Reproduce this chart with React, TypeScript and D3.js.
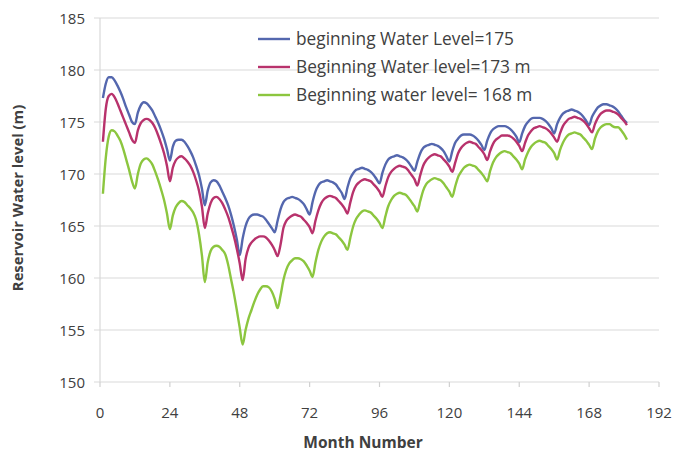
import React from "react";
import * as d3 from "d3";

const seriesNames = [
  "beginning Water Level=175",
  "Beginning Water level=173 m",
  "Beginning water level= 168 m",
];
const seriesColors = ["#5467AE", "#B8326C", "#8CC63F"];

const firstMonth = 1;

const level175 = [
  177.3, 178.7, 179.3, 179.3, 179.0, 178.5, 177.9, 177.2, 176.4, 175.7, 175.0, 174.8,
  175.9, 176.6, 176.9, 176.8, 176.5, 176.1, 175.5, 174.9, 174.2, 173.4, 172.4, 171.3,
  172.6, 173.2, 173.3, 173.3, 173.1, 172.7, 172.2, 171.6, 170.8, 169.9, 168.6, 167.0,
  168.4, 169.2, 169.4, 169.3, 168.9, 168.3, 167.7, 167.0, 166.1, 165.0, 163.7, 162.2,
  163.8, 165.0, 165.7, 166.0, 166.1, 166.1, 166.0, 165.9, 165.6, 165.2, 164.8, 164.4,
  165.5, 166.6, 167.3, 167.6, 167.7, 167.8, 167.7, 167.6, 167.4, 167.1, 166.6, 166.1,
  167.3, 168.3, 168.9, 169.2, 169.3, 169.4, 169.3, 169.2, 169.0, 168.6, 168.2, 167.6,
  168.7, 169.6, 170.1, 170.4, 170.5, 170.6, 170.5, 170.4, 170.2, 169.9, 169.5, 169.1,
  170.1, 170.9, 171.4, 171.6, 171.7, 171.8, 171.7, 171.6, 171.4, 171.1, 170.7, 170.3,
  171.2, 172.0, 172.5, 172.7, 172.8, 172.9, 172.8, 172.7, 172.5, 172.2, 171.7, 171.2,
  172.2, 173.0, 173.4, 173.7, 173.8, 173.8, 173.8, 173.7, 173.5, 173.2, 172.8, 172.3,
  173.2, 173.9, 174.3, 174.5, 174.6, 174.6, 174.6, 174.5, 174.3, 174.0, 173.6, 173.05,
  173.9, 174.6, 175.0, 175.3, 175.4, 175.4, 175.4, 175.3, 175.1, 174.8, 174.4, 173.9,
  174.8, 175.4, 175.8, 176.0, 176.1, 176.2, 176.1, 176.0, 175.8, 175.5, 175.1, 174.7,
  175.5, 176.0, 176.4, 176.6, 176.7, 176.7, 176.6, 176.5, 176.3, 176.0, 175.6, 175.2, 174.9,
];

const level173 = [
  173.1, 176.3, 177.5, 177.7, 177.4, 176.8, 176.1, 175.4, 174.7, 174.0, 173.3, 173.0,
  174.2, 174.9, 175.2, 175.3, 175.2, 174.9, 174.4, 173.7, 172.9, 172.0, 170.8, 169.3,
  170.6, 171.3, 171.6, 171.7, 171.5, 171.2, 170.8, 170.2, 169.4, 168.4, 166.9, 164.8,
  166.2, 167.2, 167.7, 167.8, 167.6, 167.2, 166.6, 165.9, 165.0, 164.0, 162.8, 161.4,
  159.8, 161.8, 162.9, 163.4, 163.7, 163.9, 164.0, 164.0, 163.9, 163.6, 163.2, 162.7,
  162.1, 163.2, 164.8, 165.5, 165.8, 166.0, 166.1, 166.0, 165.9, 165.6, 165.3, 164.9,
  164.3, 165.5, 166.5, 167.2, 167.6, 167.8, 167.9, 167.8, 167.7, 167.4, 167.1, 166.7,
  166.2, 167.3, 168.3, 168.9, 169.2, 169.4, 169.5, 169.4, 169.3, 169.0, 168.7, 168.3,
  167.8, 168.8, 169.7, 170.2, 170.5, 170.7, 170.8, 170.7, 170.6, 170.3, 169.9, 169.5,
  168.9, 169.9, 170.8, 171.3, 171.6, 171.8, 171.9, 171.8, 171.7, 171.4, 171.1, 170.7,
  170.2, 171.1, 172.0, 172.5, 172.8, 173.0, 173.1, 173.0, 172.9, 172.6, 172.3, 171.9,
  171.35, 172.2, 172.9, 173.3, 173.5, 173.7, 173.7, 173.7, 173.6, 173.4, 173.1, 172.7,
  172.2, 173.0, 173.7, 174.1, 174.4, 174.5, 174.6, 174.5, 174.4, 174.2, 173.9, 173.5,
  173.1, 173.9, 174.6, 175.0, 175.3, 175.4, 175.5, 175.4, 175.3, 175.1, 174.8, 174.4,
  174.0, 174.8, 175.4, 175.8, 176.0, 176.1, 176.1, 176.0, 175.9, 175.7, 175.4, 175.1, 174.7,
];

const level168 = [
  168.1, 171.6, 173.6, 174.2, 174.1, 173.7, 173.2, 172.4, 171.4, 170.4, 169.3, 168.6,
  170.0, 171.0, 171.4, 171.5, 171.3, 170.9, 170.2, 169.4, 168.5, 167.5, 166.2, 164.7,
  166.0, 166.8, 167.2, 167.4, 167.3, 167.0, 166.7, 166.3, 165.6, 164.2, 162.2, 159.6,
  161.5, 162.6, 163.0, 163.1, 163.0, 162.7, 162.3, 161.3, 159.9, 158.5, 156.9, 155.2,
  153.6, 155.0, 156.1, 156.9, 157.7, 158.4, 158.9, 159.2, 159.2, 159.1, 158.7, 158.0,
  157.1, 158.3, 159.8, 160.8, 161.4, 161.7, 161.9, 161.9, 161.8, 161.6, 161.2, 160.7,
  160.1, 161.5, 162.7, 163.5, 164.0, 164.3, 164.4, 164.3, 164.2, 163.9, 163.6, 163.2,
  162.7, 163.9, 165.0, 165.7, 166.1, 166.4, 166.5, 166.4, 166.3, 166.0, 165.7, 165.3,
  164.8, 165.9, 166.9, 167.5, 167.9, 168.1, 168.2, 168.1, 168.0, 167.7, 167.3, 166.9,
  166.4, 167.4, 168.4, 169.0, 169.3, 169.5, 169.6, 169.5, 169.4, 169.1, 168.7, 168.3,
  167.8, 168.8, 169.7, 170.2, 170.6, 170.8, 170.9, 170.8, 170.7, 170.4, 170.1, 169.7,
  169.3, 170.3, 171.1, 171.6, 171.9, 172.1, 172.2, 172.1, 172.0, 171.7, 171.4, 171.0,
  170.45, 171.4, 172.1, 172.6, 172.9, 173.1, 173.2, 173.1, 173.0, 172.7, 172.4, 172.0,
  171.4, 172.3, 173.0, 173.5, 173.8, 173.9, 174.0, 173.9, 173.8, 173.5, 173.2, 172.8,
  172.4, 173.4, 174.1, 174.5, 174.7, 174.8, 174.8, 174.6, 174.5, 174.5, 174.2, 173.8, 173.3,
];

const xTicks = [0, 24, 48, 72, 96, 120, 144, 168, 192];
const yTicks = [150, 155, 160, 165, 170, 175, 180, 185];
const xTitle = "Month Number";
const yTitle = "Reservoir Water level (m)";

const FONT = "'Open Sans', 'DejaVu Sans', sans-serif";

export default function App() {
  const W = 676;
  const H = 453;
  const left = 100;
  const right = 659;
  const top = 18;
  const bottom = 382;

  const x = d3.scaleLinear().domain([0, 192]).range([left, right]);
  const y = d3.scaleLinear().domain([150, 185]).range([bottom, top]);

  const line = d3
    .line<number>()
    .x((_, i) => x(firstMonth + i))
    .y((d) => y(d))
    .curve(d3.curveMonotoneX);

  const series = [level175, level173, level168];
  const legendY = [39, 67, 95];

  return (
    <div style={{ position: "absolute", left: 0, top: 0 }}>
      <svg width={W} height={H} style={{ display: "block", background: "#fff" }}>
        <rect x={0} y={0} width={W} height={H} fill="#fff" />
        {yTicks.map((t) => (
          <line key={"g" + t} x1={left - 6} x2={right} y1={y(t)} y2={y(t)} stroke="#d9d9d9" strokeWidth={1.2} />
        ))}
        <line x1={left} x2={left} y1={top} y2={bottom} stroke="#d9d9d9" strokeWidth={1.2} />
        {xTicks.map((t) => (
          <line key={"xt" + t} x1={x(t)} x2={x(t)} y1={bottom} y2={bottom + 5} stroke="#d0d0d0" strokeWidth={1.2} />
        ))}
        {yTicks.map((t) => (
          <text key={"yl" + t} x={85} y={y(t) + 5.5} textAnchor="end" fontFamily={FONT} fontSize={15} fill="#404040">
            {t}
          </text>
        ))}
        {xTicks.map((t) => (
          <text key={"xl" + t} x={x(t)} y={418} textAnchor="middle" fontFamily={FONT} fontSize={15} fill="#404040">
            {t}
          </text>
        ))}
        <text x={363} y={448} textAnchor="middle" fontFamily={FONT} fontSize={15.5} fontWeight="bold" fill="#404040">
          {xTitle}
        </text>
        <text
          transform={`translate(23,198) rotate(-90)`}
          textAnchor="middle"
          fontFamily={FONT}
          fontSize={14.8}
          fontWeight="bold"
          fill="#404040"
        >
          {yTitle}
        </text>
        {series.map((s, i) => (
          <path key={"s" + i} d={line(s) || ""} fill="none" stroke={seriesColors[i]} strokeWidth={2.4} strokeLinejoin="round" />
        ))}
        {seriesNames.map((n, i) => (
          <g key={"lg" + i}>
            <line x1={258} x2={290} y1={legendY[i]} y2={legendY[i]} stroke={seriesColors[i]} strokeWidth={2.4} />
            <text x={296} y={legendY[i] + 6} fontFamily={FONT} fontSize={17.3} fill="#404040">
              {n}
            </text>
          </g>
        ))}
      </svg>
    </div>
  );
}
